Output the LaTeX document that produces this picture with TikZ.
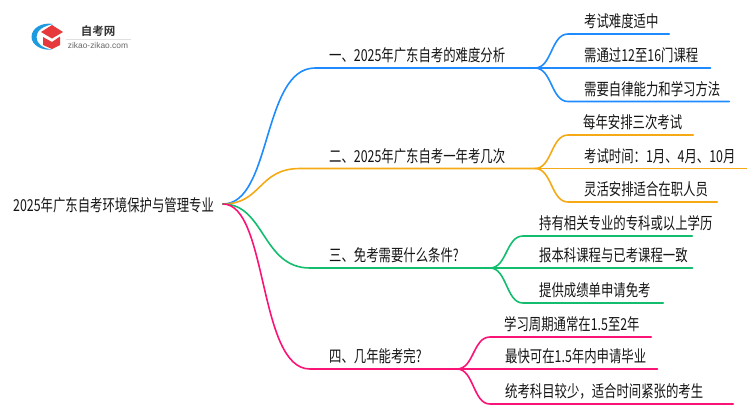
\documentclass[tikz,border=0pt]{standalone}
\usepackage{fontspec}
\setmainfont{Liberation Sans}
\newfontfamily\cjk[FakeStretch=0.75]{Noto Sans CJK SC}
\newfontfamily\cjkb{Noto Sans CJK SC Bold}
\definecolor{cblue}{HTML}{1E8CFF}
\definecolor{corange}{HTML}{F5A914}
\definecolor{cgreen}{HTML}{12BE6E}
\definecolor{cpink}{HTML}{FA1478}
\definecolor{logored}{HTML}{E5393B}
\definecolor{logoblue}{HTML}{1E9BE0}
\tikzset{
 txt/.style={font=\cjk\fontsize{16.5}{16.5}\selectfont,text=black!92,inner sep=0pt,anchor=south west,align=left,text height=15pt,text depth=6pt},
 wire/.style={line width=1.6pt,line cap=round},
}
\begin{document}
\begin{tikzpicture}[x=1pt,y=-1pt]
\useasboundingbox (0,0) rectangle (750,410);
% logo
\fill[logoblue] (53,24) .. controls (42,22) and (31.5,28) .. (31.5,37) .. controls (31.5,45) and (42,51) .. (52,49.5) .. controls (43,48.5) and (36.5,44) .. (36.5,37) .. controls (36.5,30) and (44,26) .. (53,24) -- cycle;
\fill[logored] (41,32) -- (52,25) -- (63,32) -- (52,38.5) -- cycle;
\fill[logored] (43,37) -- (52,42) -- (60,36.5) -- (60,45) -- (52,49) -- (43,45) -- cycle;
\node[font=\cjkb\fontsize{11.5}{11.5}\selectfont,text=black!80,inner sep=0pt] (logotitle) at (98,31) {自考网};
\draw[black!12,line width=.5pt] (66,39) -- (131,39);
\node[font=\fontsize{8.4}{8.4}\selectfont,text=black!60,inner sep=0pt] (logourl) at (98,45) {zikao-zikao.com};
% root
\node[font=\cjk\fontsize{16.5}{16.5}\selectfont,text=black!92,inner sep=0pt,anchor=west] (root) at (13,205) {2025年广东自考环境保护与管理专业};
\coordinate (hub0) at (223,204);
% hubs
\coordinate (hubA) at (535,68);
\coordinate (hubB) at (535,168.5);
\coordinate (hubC) at (490,268);
\coordinate (hubD) at (457,369);
% branches
\node[txt,text width=220pt] (A) at (315,68) {\hspace*{14pt}一、2025年广东自考的难度分析};
\node[txt,text width=235pt] (B) at (300,168.5) {\hspace*{29pt}二、2025年广东自考一年考几次};
\node[txt,text width=180pt] (C) at (310,268) {\hspace*{19pt}三、免考需要什么条件?};
\node[txt,text width=147pt] (D) at (310,369) {\hspace*{19pt}四、几年能考完?};
\draw[wire,cblue] (hub0) .. controls (272,204) and (262,68) .. (A.south west) -- (hubA);
\draw[wire,corange] (hub0) .. controls (262,204) and (258,168.5) .. (B.south west) -- (hubB);
\draw[wire,cgreen] (hub0) .. controls (265,204) and (262,268) .. (C.south west) -- (hubC);
\draw[wire,cpink] (hub0) .. controls (268,204) and (258,369) .. (D.south west) -- (hubD);
% leaves
\foreach \n/\h/\hx/\hy/\col/\xa/\y/\xb/\pad/\t in {
 a1/hubA/535/68/cblue/568/34/669/16/考试难度适中,
 a2/hubA/535/68/cblue/568/68/710/16/需通过12至16门课程,
 a3/hubA/535/68/cblue/568/101.5/729/16/需要自律能力和学习方法,
 b1/hubB/535/168.5/corange/568/135/693/15/每年安排三次考试,
 b2/hubB/535/168.5/corange/568/168.5/746/16/考试时间：1月、4月、10月,
 b3/hubB/535/168.5/corange/568/202/717/16/灵活安排适合在职人员,
 c1/hubC/490/268/cgreen/523/236/692/16/持有相关专业的专科或以上学历,
 c2/hubC/490/268/cgreen/523/268/692/16/报本科课程与已考课程一致,
 c3/hubC/490/268/cgreen/523/303/663/16/提供成绩单申请免考,
 d1/hubD/457/369/cpink/490/337/651/14/学习周期通常在1.5至2年,
 d2/hubD/457/369/cpink/490/369/657/15/最快可在1.5年内申请毕业,
 d3/hubD/457/369/cpink/490/404/733/15/统考科目较少，适合时间紧张的考生}{
 \pgfmathsetmacro{\w}{\xb-\xa}
 \node[txt,text width=\w pt] (\n) at (\xa,\y) {\hspace*{\pad pt}\t};
 \draw[wire,\col] (\h) .. controls (\hx+17,\hy) and (\xa-17,\y) .. (\n.south west) -- (\n.south east);
}
\end{tikzpicture}
\end{document}
